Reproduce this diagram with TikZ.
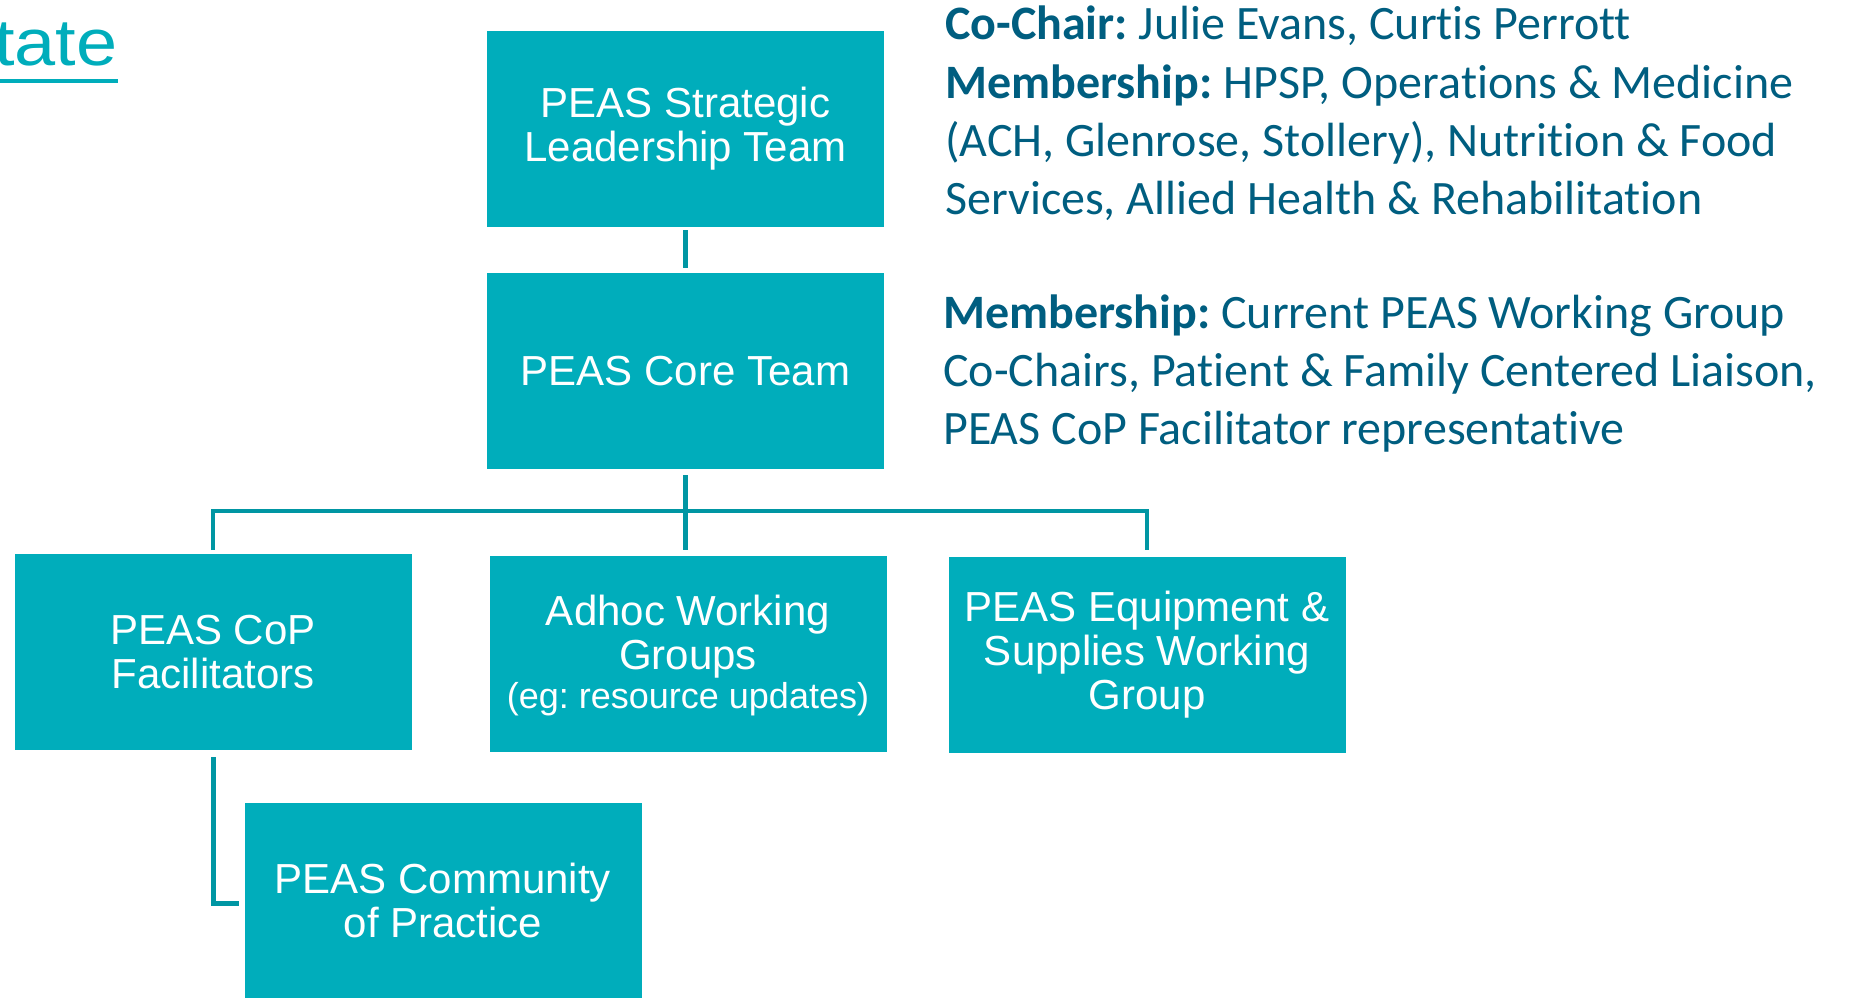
\documentclass[tikz,border=0pt]{standalone}
\usepackage{fontspec}
\setmainfont{Liberation Sans}
\newfontfamily\calfont[Ligatures=NoCommon]{Carlito}
\definecolor{boxteal}{RGB}{0,173,187}
\definecolor{lineteal}{RGB}{0,150,163}
\definecolor{memblue}{RGB}{0,94,128}
\begin{document}
\frenchspacing
\begin{tikzpicture}[x=1pt,y=-1pt,
  box/.style={fill=boxteal, draw=none, inner sep=0pt, minimum width=397pt, minimum height=196pt, text=white, align=center, font=\fontsize{42}{44}\selectfont},
  boxtext/.style={inner sep=0pt, text=white, align=center, font=\fontsize{42}{44}\selectfont},
  conn/.style={draw=lineteal, line width=5pt},
  memo/.style={anchor=base west, inner sep=0pt, text=memblue, font=\calfont\fontsize{48}{58}\selectfont}]
\useasboundingbox (0,0) rectangle (1849,998);
\clip (0,0) rectangle (1849,998);
% title fragment
\node[anchor=base west, inner sep=0pt, text=boxteal, font=\fontsize{66}{70}\selectfont] (title) at (-6,66) {\scalebox{1.12}[1]{tate}};
\draw[boxteal, line width=4.3pt] (0,81) -- (118,81);
% boxes
\node[box] (slt) at (685.5,129) {PEAS Strategic\\Leadership Team};
\node[box] (core) at (685.5,371) {PEAS Core Team};
\node[box] (cop) at (213,652) {PEAS CoP\\Facilitators};
\node[box] (adhoc) at (688,654) {};
\node[boxtext] (adhoctxt) at (688,655.75) {Adhoc Working\\Groups\\[-5.5pt]{\fontsize{36}{38}\selectfont (eg: resource updates)}};
\node[box] (equip) at (1147,655) {PEAS Equipment \&\\Supplies Working\\Group};
\node[box] (comm) at (443,900.5) {PEAS Community\\of Practice};
% connectors
\coordinate (bus) at (686,511);
\draw[conn] (slt.south |- 0,230) -- (core.north |- 0,268);
\draw[conn] (core.south |- 0,475) -- (core.south |- 0,550);
\draw[conn, line width=4.5pt] (cop.north |- 0,550) |- (bus) -| (equip.north |- 0,550);
\draw[conn] (cop.south |- 0,757) |- (239,903);
% membership text
\node[memo] (c1) at (945,40) {\textbf{Co-Chair:} Julie Evans, Curtis Perrott};
\node[memo] (c2) at (945,98) {\textbf{Membership:} HPSP, Operations \& Medicine};
\node[memo] (c3) at (945,156) {(ACH, Glenrose, Stollery), Nutrition \& Food};
\node[memo] (c4) at (945,214) {Services, Allied Health \& Rehabilitation};
\node[memo] (m1) at (943,328) {\textbf{Membership:} Current PEAS Working Group};
\node[memo] (m2) at (943,386) {Co-Chairs, Patient \& Family Centered Liaison,};
\node[memo] (m3) at (943,444) {PEAS CoP Facilitator representative};
\end{tikzpicture}
\end{document}
